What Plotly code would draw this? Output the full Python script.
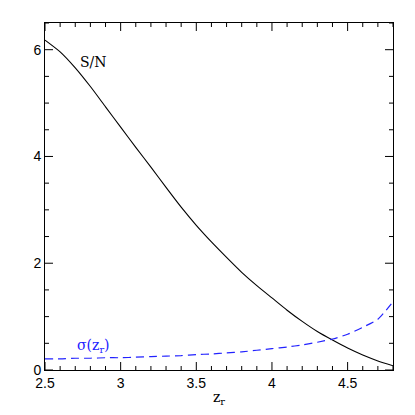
import plotly.graph_objects as go

# redshift grid
z_r = [2.5, 2.6, 2.7, 2.8, 2.9, 3.0, 3.1, 3.2, 3.3, 3.4, 3.5, 3.6,
       3.7, 3.8, 3.9, 4.0, 4.1, 4.2, 4.3, 4.4, 4.5, 4.6, 4.7, 4.8]

# signal to noise
s_n = [6.18, 5.96, 5.66, 5.31, 4.93, 4.55, 4.17, 3.80, 3.42, 3.05, 2.71, 2.40,
       2.11, 1.83, 1.58, 1.35, 1.12, 0.91, 0.72, 0.56, 0.41, 0.28, 0.17, 0.08]

# sigma(z_r)
sigma_z = [0.21, 0.21, 0.22, 0.22, 0.23, 0.23, 0.24, 0.25, 0.26, 0.27, 0.29, 0.30,
           0.32, 0.34, 0.37, 0.40, 0.43, 0.47, 0.52, 0.58, 0.67, 0.80, 0.95, 1.28]

x_range = [2.5, 4.8]
y_range = [0, 6.5]
x_major = [2.5, 3, 3.5, 4, 4.5]
x_labels = ["2.5", "3", "3.5", "4", "4.5"]
y_major = [0, 2, 4, 6]

fig = go.Figure()
fig.add_trace(go.Scatter(
    x=z_r, y=s_n, mode="lines",
    line=dict(color="black", width=1.1, shape="spline", smoothing=0.6),
))
fig.add_trace(go.Scatter(
    x=z_r, y=sigma_z, mode="lines",
    line=dict(color="#2222ff", width=1.2, dash="8px,5px", shape="spline", smoothing=0.6),
))

serif = "DejaVu Serif, Liberation Serif, serif"
fig.add_annotation(x=2.82, y=5.77, text="S/N", showarrow=False,
                   font=dict(family=serif, size=14, color="black"))
fig.add_annotation(x=2.82, y=0.45, text="σ(z<sub>r</sub>)", showarrow=False,
                   font=dict(family=serif, size=14, color="#2222ff"))

# axis ticks never rendered in this setup, so draw them as pixel-sized shapes
tick_line = dict(color="black", width=1)
x_minor = [round(x_range[0] + 0.1 * i, 1) for i in range(24)]
y_minor = [0.5 * i for i in range(14)]
for xv in x_minor:
    ln = 8 if xv in x_major else 4
    for anchor, sign in ((y_range[0], 1), (y_range[1], -1)):
        fig.add_shape(type="line", xref="x", yref="y", ysizemode="pixel",
                      yanchor=anchor, x0=xv, x1=xv, y0=0, y1=sign * ln, line=tick_line)
for yv in y_minor:
    ln = 8 if yv in y_major else 4
    for anchor, sign in ((x_range[0], 1), (x_range[1], -1)):
        fig.add_shape(type="line", xref="x", yref="y", xsizemode="pixel",
                      xanchor=anchor, y0=yv, y1=yv, x0=0, x1=sign * ln, line=tick_line)

fig.update_xaxes(
    range=x_range, tickvals=x_major, ticktext=x_labels, ticks="",
    showline=True, linecolor="black", mirror=True, showgrid=False, zeroline=False,
    title=dict(text="z<sub>r</sub>", font=dict(family=serif, size=14, color="black"),
               standoff=4),
)
fig.update_yaxes(
    range=y_range, tickvals=y_major, ticks="",
    showline=True, linecolor="black", mirror=True, showgrid=False, zeroline=False,
)

# page body has an 8px margin, so the figure is sized to fit inside it
fig.update_layout(
    template="none",
    width=399, height=399,
    margin=dict(l=37, r=14, t=15, b=37),
    font=dict(family="Liberation Sans, Arial, sans-serif", size=14, color="black"),
    paper_bgcolor="white", plot_bgcolor="white",
    showlegend=False,
)

fig.write_html("out.html")
